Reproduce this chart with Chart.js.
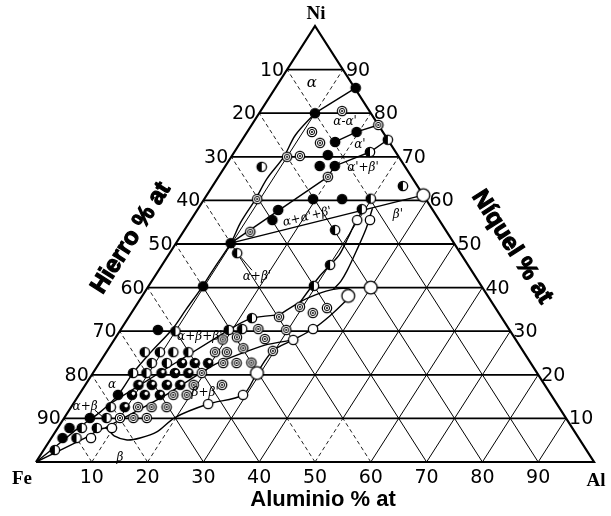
<!DOCTYPE html>
<html>
<head>
<meta charset="utf-8">
<script src="https://cdn.jsdelivr.net/npm/chart.js@4/dist/chart.umd.min.js"></script>
<style>
  html, body { margin: 0; padding: 0; background: #fff; }
  canvas { display: block; }
</style>
</head>
<body>
<canvas id="c" width="611" height="516"></canvas>
<script>
// Fe–Ni–Al ternary section. Every composition is [Al %, Ni %]; Fe is the remainder.
const tickValues = [10, 20, 30, 40, 50, 60, 70, 80, 90];

// samples, by symbol
const ptFull = [[14.4,85.8],[10,80],[19.6,75.7],[16.9,73.4],[17.1,70.4],[16.9,67.9],[19.6,67.9],
  [19.5,60.3],[24.7,60.3],[14.6,55.5],[14.5,57.8],[9.8,50.2],[9.8,40.3],[6.7,30.3],
  [7.0,15.4],[4.6,10.1],[2.1,7.8],[2.0,5.5]];
const ptOpen = [[29.8,55.5],[32.1,55.5],[34.4,30.5],[32.1,28.0],[29.4,15.4],[24.2,13.3],[9.7,7.8],[7.1,5.5]];
const ptOpenLarge = [[38.8,61.2],[40,40],[36.9,38.1],[29.4,20.4]];
const ptHalf = [[26.1,73.9],[24.3,71.1],[6.6,67.7],[34.1,63.3],[29.8,60.4],[29.4,58.0],[27.0,53.2],
  [12.1,47.9],[30.1,45.2],[29.6,40.4],[10,30],[19.4,30.3],[21.7,30.5],[22.2,33.0],
  [6.9,25.2],[9.6,25.2],[12.0,25.2],[14.7,25.2],[9.4,22.7],[12.1,22.7],[7.2,20.4],[9.6,20.4],
  [7.1,12.6],[7.6,10.1],[4.3,7.8],[7.0,7.8],[4.5,5.5],[2.0,2.75]];
const ptRing = [[14.6,80.5],[22.7,77.3],[11.6,75.7],[14.3,73.2],[10,70],[12.2,70.2],[19.6,65.4],
  [9.5,60.3],[12.0,52.8],[24.6,30.5],[26.9,33.3],[29.5,35.6],[32.5,34.2],[34.5,35.3],[29.7,30.3],
  [26.9,28.2],[29.7,25.5],[27.2,22.8],[19.4,28.1],[21.7,28.6],[19.5,25.2],[21.6,25.2],[24.1,26.1],
  [22.2,22.7],[24.6,22.7],[19.5,20.4],[19.4,17.7],[24.5,17.7],[16.9,15.4],[19.3,15.4],
  [12.0,12.6],[14.4,12.6],[17.1,12.6],[10.0,10.1],[12.4,10.1],[14.8,10.1]];
const ptDark = [[14.8,22.7],[17.1,22.7],[19.5,22.7],[12.3,20.4],[14.7,20.4],[17.1,20.4],
  [9.5,17.7],[11.9,17.7],[14.6,17.7],[17.0,17.7],[9.5,15.4],[11.8,15.4],[14.5,15.4],[9.6,12.6]];

// phase boundaries
const lineAlphaTop = [[14.4,85.8],[10,80]];
const lineAlpha = [[10,80],[9.0,75],[9.4,70],[8.9,65],[9.2,60.3],[9.2,55],[9.8,50.2],[9.7,45],
  [9.7,40.3],[9.4,35],[9.2,30.5],[8.0,25.2],[7.2,20.5],[7.0,15.4],[5.8,11.5],[3.8,8],[2.4,5],[1.0,2],[0,0]];
const lineBeta = [[0,0],[3,2.75],[6,5.5],[8.5,7.8],[11.0,6.0],[13.8,5.05],[15.9,5.5],[18.2,6.9],
  [19.8,10.2],[24.2,13.3],[29.4,15.4],[29.4,20.4],[29.7,25.5],[32.1,28.0],[34.4,30.5],[35.9,33.5],
  [37.0,36.8],[37.3,38.6],[36.2,39.7],[33.5,39.6],[31.0,38.4],[29.0,36.8],[26.8,33.8]];
const lineTieUpper = [[26.8,33.8],[22.2,33.0],[19.4,30.3],[6.3,13.0]];
const lineTieLower = [[8.5,7.8],[15.6,15.4],[21.0,22.5],[27.6,26.8],[32.1,28.0]];
const lineBetaPrimeA = [[29.8,58.6],[29.7,55.5],[30.2,51.5],[30.6,47.5],[30.1,45.2],[29.5,42.5],[29.3,40.6],[29.0,36.8]];
const lineBetaPrimeB = [[31.2,58.2],[32.4,53.5],[33.2,48.5],[33.8,44],[33.9,41.5],[33.5,39.6]];
const lineTriAlphaAlphaP = [[9.8,50.2],[19.6,65.4]];
const lineTriAlphaBetaP = [[9.8,50.2],[38.8,61.2]];
const lineAlphaPUpper = [[22.7,77.3],[19.6,75.7],[16.9,73.4]];
const lineAlphaPLower = [[26.1,73.9],[24.3,71.1],[19.6,67.9],[19.6,65.4]];
const leaderAlphaBetaP = [[13.2,47.0],[16.7,44.0]];
const leaderAlphaBeta = [[4.6,11.9],[6.85,10.3]];

// field names
const phaseNames = ['α', "α-α'", "α'", "α'+β'", "β'", "α+α'+β'", "α+β'", "α+β+β'", "β+β'", 'α', 'α+β', 'β'];
const phaseAt = [[6.0,86.9],[16.4,78.0],[21.7,72.7],[24.9,67.4],[36.5,56.7],[20.5,56.2],[18.4,42.4],
  [15.0,28.7],[22.4,15.8],[4.8,17.7],[2.5,12.6],[14.6,0.9]];

const cornerNames = ['Fe', 'Al', 'Ni'];
const axisNames = ['Hierro % at', 'Aluminio % at', 'Níquel % at'];

// ---------- helpers ----------
const toXY = ([al, ni]) => ({ x: al + ni / 2, y: ni });
const BREAK = { x: NaN, y: NaN };

function alphaAlAt(ni) {
  for (let i = 0; i < lineAlpha.length - 1; i++) {
    const [a1, n1] = lineAlpha[i], [a2, n2] = lineAlpha[i + 1];
    if (ni <= n1 && ni >= n2) return a1 + (a2 - a1) * (ni - n1) / (n2 - n1);
  }
  return 0;
}

// grid segments inside single-phase fields are drawn dashed
function dashedAt(al, ni) {
  const fe = 100 - al - ni;
  if (ni > 80) return true;
  if (ni > 12 && al < alphaAlAt(ni) - 0.5) return true;
  if (ni < 10 && al < 22) return true;
  if (ni < 10 && fe > 38 && fe < 52) return true;
  if (ni > 60 && ni < 80 && al > alphaAlAt(ni) + 3) return true;
  return false;
}

const gridLevel = [], gridSolid = [], gridDash = [];
tickValues.forEach(v => {
  gridLevel.push(toXY([0, v]), toXY([100 - v, v]), BREAK);
  for (let n = 0; n < 100 - v; n += 10) {
    const segAl = [[v, n], [v, n + 10]];
    const segFe = [[100 - v - n, n], [100 - v - n - 10, n + 10]];
    (dashedAt(v, n + 5) ? gridDash : gridSolid).push(...segAl.map(toXY), BREAK);
    (dashedAt(100 - v - n - 5, n + 5) ? gridDash : gridSolid).push(...segFe.map(toXY), BREAK);
  }
});

function marker(kind, r) {
  const s = Math.ceil(r * 2 + 4);
  const c = document.createElement('canvas');
  c.width = s; c.height = s;
  const g = c.getContext('2d');
  const m = s / 2;
  g.lineWidth = 1.3;
  g.strokeStyle = '#000';
  g.fillStyle = '#fff';
  g.beginPath(); g.arc(m, m, r, 0, Math.PI * 2); g.fill();
  g.fillStyle = '#000';
  if (kind === 'full') { g.beginPath(); g.arc(m, m, r, 0, Math.PI * 2); g.fill(); }
  if (kind === 'half') { g.beginPath(); g.arc(m, m, r, Math.PI / 2, Math.PI * 1.5); g.closePath(); g.fill(); }
  if (kind === 'dark') {
    g.beginPath(); g.arc(m, m, r, 0, Math.PI * 2); g.fill();
    g.fillStyle = '#fff';
    g.beginPath(); g.arc(m + r * 0.3, m - r * 0.3, r * 0.38, 0, Math.PI * 2); g.fill();
  }
  if (kind === 'ring') {
    g.lineWidth = 1;
    g.beginPath(); g.arc(m, m, r * 0.55, 0, Math.PI * 2); g.stroke();
    g.beginPath(); g.arc(m, m, 1, 0, Math.PI * 2); g.fill();
    g.lineWidth = 1.2;
  }
  g.beginPath(); g.arc(m, m, r, 0, Math.PI * 2); g.stroke();
  return c;
}

const lineSet = (pts, extra) => Object.assign({
  data: pts.map(toXY), showLine: true, borderColor: '#000', borderWidth: 1.4,
  pointRadius: 0, fill: false, clip: false, order: 2
}, extra || {});
const pointSet = (pts, img) => ({
  data: pts.map(toXY), showLine: false, pointStyle: img, pointRadius: 5,
  clip: false, order: 0
});

const R = 4.7;
const datasets = [
  pointSet(ptFull, marker('full', R)),
  pointSet(ptOpen, marker('open', R)),
  pointSet(ptOpenLarge, marker('open', 6.4)),
  pointSet(ptHalf, marker('half', R)),
  pointSet(ptRing, marker('ring', R)),
  pointSet(ptDark, marker('dark', R)),
  lineSet(lineAlphaTop),
  lineSet(lineAlpha, { tension: 0.35 }),
  lineSet(lineBeta, { tension: 0.3 }),
  lineSet(lineTieUpper, { tension: 0.2 }),
  lineSet(lineTieLower, { tension: 0.2 }),
  lineSet(lineBetaPrimeA, { tension: 0.3 }),
  lineSet(lineBetaPrimeB, { tension: 0.3 }),
  lineSet(lineTriAlphaAlphaP),
  lineSet(lineTriAlphaBetaP),
  lineSet(lineAlphaPUpper),
  lineSet(lineAlphaPLower),
  lineSet(leaderAlphaBetaP, { borderWidth: 1 }),
  lineSet(leaderAlphaBeta, { borderWidth: 1 }),
  lineSet([[0,0],[100,0],[0,100],[0,0]], { borderWidth: 2.2, order: 1 }),
  { data: gridLevel, showLine: true, borderColor: '#000', borderWidth: 1.8, pointRadius: 0, order: 3 },
  { data: gridSolid, showLine: true, borderColor: '#000', borderWidth: 1.0, pointRadius: 0, order: 3 },
  { data: gridDash, showLine: true, borderColor: '#222', borderWidth: 1.0, borderDash: [4, 3], pointRadius: 0, order: 3 }
];

const textPlugin = {
  id: 'ternaryText',
  afterDatasetsDraw(chart) {
    const { ctx } = chart;
    const xs = chart.scales.x, ys = chart.scales.y;
    const P = (al, ni) => [xs.getPixelForValue(al + ni / 2), ys.getPixelForValue(ni)];
    ctx.save();
    ctx.fillStyle = '#000';

    // scale numbers on the three edges
    ctx.font = '19px "DejaVu Sans"';
    ctx.textBaseline = 'middle';
    tickValues.forEach(v => {
      let [px, py] = P(0, 100 - v);
      ctx.textAlign = 'right'; ctx.fillText(String(v), px - 3, py + 1);
      [px, py] = P(100 - v, v);
      ctx.textAlign = 'left'; ctx.fillText(String(v), px + 3, py + 1);
      [px, py] = P(v, 0);
      ctx.textAlign = 'center'; ctx.fillText(String(v), px, py + 16);
    });

    // corner elements
    ctx.font = 'bold 19px "Liberation Serif"';
    ctx.textAlign = 'center';
    let [fx, fy] = P(0, 0);
    ctx.fillText(cornerNames[0], fx - 14, fy + 17);
    let [ax, ay] = P(100, 0);
    ctx.fillText(cornerNames[1], ax + 2, ay + 19);
    let [nx, ny] = P(0, 100);
    ctx.fillText(cornerNames[2], nx + 1, ny - 12);

    // axis titles
    const ang = Math.atan2(ys.getPixelForValue(0) - ys.getPixelForValue(100),
                           xs.getPixelForValue(50) - xs.getPixelForValue(0));
    ctx.font = 'bold 24px "Liberation Sans"';
    ctx.lineWidth = 1.2; ctx.strokeStyle = '#000';
    ctx.save(); ctx.translate(131, 238); ctx.rotate(-ang);
    ctx.fillText(axisNames[0], 0, 0); ctx.strokeText(axisNames[0], 0, 0); ctx.restore();
    ctx.save(); ctx.translate(512, 247); ctx.rotate(ang);
    ctx.fillText(axisNames[2], 0, 0); ctx.strokeText(axisNames[2], 0, 0); ctx.restore();
    ctx.font = 'bold 22px "Liberation Sans"';
    ctx.fillText(axisNames[1], 323, 500);

    // phase field names
    phaseNames.forEach((name, i) => {
      const [px, py] = P(phaseAt[i][0], phaseAt[i][1]);
      ctx.font = (i === 0 ? 'italic 15px' : 'italic 12px') + ' "DejaVu Serif"';
      ctx.save(); ctx.translate(px, py);
      if (i === 5) ctx.rotate(-14 * Math.PI / 180);
      ctx.fillText(name, 0, 0);
      ctx.restore();
    });
    ctx.restore();
  }
};

new Chart(document.getElementById('c'), {
  type: 'scatter',
  data: { datasets },
  options: {
    responsive: false,
    animation: false,
    devicePixelRatio: 1,
    events: [],
    layout: { padding: { left: 36, right: 17, top: 26, bottom: 54 } },
    scales: {
      x: { type: 'linear', min: 0, max: 100, display: false },
      y: { type: 'linear', min: 0, max: 100, display: false }
    },
    plugins: { legend: { display: false }, tooltip: { enabled: false } }
  },
  plugins: [textPlugin]
});
</script>
</body>
</html>
